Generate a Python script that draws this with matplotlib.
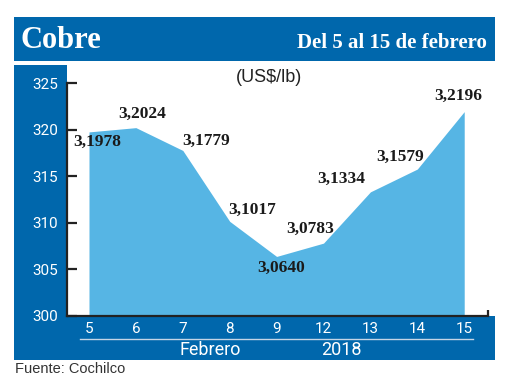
import numpy as np
import matplotlib
matplotlib.use("Agg")
import matplotlib.pyplot as plt
from matplotlib.patches import Rectangle

# ---- data ----
dias = ["5", "6", "7", "8", "9", "12", "13", "14", "15"]
precios = [3.1978, 3.2024, 3.1779, 3.1017, 3.0640, 3.0783, 3.1334, 3.1579, 3.2196]
yticks = [300, 305, 310, 315, 320, 325]
titulo = "Cobre"
subtitulo = "Del 5 al 15 de febrero"
unidad = "(US$/lb)"
mes = "Febrero"
anio = "2018"
fuente = "Fuente: Cochilco"

# label offsets in pixels (dx, dy) — layout only
label_off = [(8, -10), (6, 14), (23, 10), (22, 11), (5, -11), (-13, 14), (-29, 13), (-17, 12), (-6, 16)]

DARK = "#0067AC"
LIGHT = "#56B5E4"
NARROW = ["Liberation Sans Narrow", "Roboto", "DejaVu Sans"]

W, H = 520, 390
fig = plt.figure(figsize=(W / 100, H / 100), dpi=100)

def fx(px):
    return px / W

def fy(py):
    return 1 - py / H

def rect(x0, y0, x1, y1, color):
    r = Rectangle((fx(x0), fy(y1)), fx(x1) - fx(x0), fy(y0) - fy(y1),
                  transform=fig.transFigure, facecolor=color, edgecolor="none", zorder=-1)
    fig.add_artist(r)

# frame pieces
rect(14, 17, 495, 61, DARK)      # header
rect(14, 65, 67, 360, DARK)      # left column
rect(14, 316, 495, 360, DARK)    # bottom band

fig.text(fx(21), fy(40), titulo, color="white", fontsize=22, fontweight="bold",
         family="Liberation Serif", ha="left", va="center")
fig.text(fx(487), fy(43), subtitulo, color="white", fontsize=15, fontweight="bold",
         family="Liberation Serif", ha="right", va="center")

ax = fig.add_axes([fx(67), fy(316), fx(488) - fx(67), fy(65) - fy(316)])
ax.set_facecolor("none")

x = np.arange(len(dias))
vals = np.array(precios) * 100
ax.fill_between(x, 300, vals, color=LIGHT, linewidth=0, zorder=1)

for xi, v, p, (dx, dy) in zip(x, vals, precios, label_off):
    ax.annotate(f"{p:.4f}".replace(".", ","), (xi, v), xytext=(dx, dy),
                textcoords="offset pixels", ha="center", va="center",
                fontsize=12.5, fontweight="bold", family="Liberation Serif",
                color="#1a1a1a", zorder=3)

ax.set_xlim(-0.469, 8.507)
ax.set_ylim(300, 326.97)
ax.set_yticks(yticks)
ax.set_yticklabels([str(t) for t in yticks], color="white", fontsize=11, family=NARROW)
ax.set_xticks(x)
ax.set_xticklabels(dias, color="white", fontsize=11, family=NARROW)

ax.tick_params(axis="y", direction="in", length=7.2, width=1.6, color="#222222", pad=6.5)
ax.tick_params(axis="x", length=0, pad=4)

for s in ["top", "right"]:
    ax.spines[s].set_visible(False)
ax.spines["left"].set_bounds(300, 325)
for s in ["left", "bottom"]:
    ax.spines[s].set_color("#222222")
    ax.spines[s].set_linewidth(1.6)
    ax.spines[s].set_zorder(4)
# small end tick on the right of the baseline
ax.plot([1, 1], [0, 0.022], transform=ax.transAxes, color="#222222", lw=1.6,
        clip_on=False, solid_capstyle="butt", zorder=4)

fig.text(fx(269), fy(77), unidad, color="#222222", fontsize=13, family="Liberation Sans",
         ha="center", va="center")

# month / year band
fig.add_artist(plt.Line2D([fx(80), fx(473)], [fy(339), fy(339)], transform=fig.transFigure,
                          color="#c5d5e6", lw=1))
fig.text(fx(210), fy(350), mes, color="white", fontsize=13, family=NARROW, ha="center", va="center")
fig.text(fx(341), fy(350), anio, color="white", fontsize=13, family=NARROW, ha="center", va="center")

fig.text(fx(15), fy(369), fuente, color="#333333", fontsize=10.5, family="Liberation Sans",
         ha="left", va="center")

fig.savefig("out.png", dpi=100, facecolor="white")
